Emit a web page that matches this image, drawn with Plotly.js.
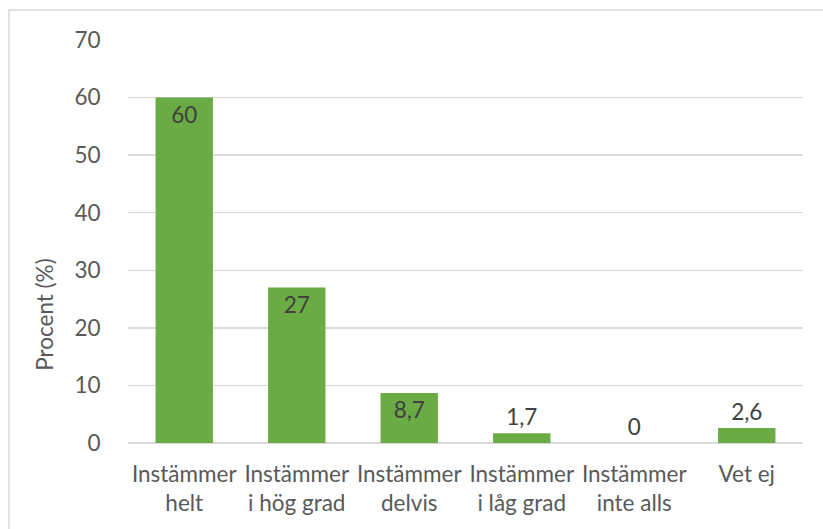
<!DOCTYPE html>
<html>
<head>
<meta charset="utf-8">
<script src="https://cdn.plot.ly/plotly-3.0.1.min.js"></script>
<style>html,body{margin:0;padding:0;background:#fff;}#chart{width:823px;height:529px;}</style>
</head>
<body>
<div id="chart"></div>
<script>
const categories = ["Instämmer<br>helt", "Instämmer<br>i hög grad", "Instämmer<br>delvis", "Instämmer<br>i låg grad", "Instämmer<br>inte alls", "Vet ej"];
const values = [60, 27, 8.7, 1.7, 0, 2.6];
const labelPositions = ["inside", "inside", "inside", "outside", "outside", "outside"];
const yTicks = [0, 10, 20, 30, 40, 50, 60, 70];
const yTitle = "Procent (%)";

const labels = values.map(v => String(v).replace('.', ','));
const font = "Lato, 'Open Sans', sans-serif";
const fs = 22.5;

const trace = {
  type: 'bar',
  x: categories,
  y: values,
  text: labels,
  textposition: labelPositions,
  insidetextanchor: 'end',
  constraintext: 'none',
  cliponaxis: false,
  textfont: {family: font, size: fs, color: '#404040'},
  marker: {color: '#6aab45'},
  width: 0.51,
  hoverinfo: 'skip'
};

const layout = {
  width: 823, height: 529,
  margin: {l: 128, r: 20, t: 40, b: 86},
  paper_bgcolor: '#ffffff', plot_bgcolor: '#ffffff',
  showlegend: false,
  font: {family: font, size: fs, color: '#595959'},
  xaxis: {
    type: 'category',
    showgrid: false, zeroline: false,
    showline: false,
    ticks: 'outside', ticklen: 11, tickcolor: 'rgba(0,0,0,0)',
    tickfont: {family: font, size: fs, color: '#595959'}
  },
  yaxis: {
    range: [0, 70],
    tickvals: yTicks,
    showgrid: true, gridcolor: '#d9d9d9', gridwidth: 1.5,
    zeroline: true, zerolinecolor: '#d9d9d9', zerolinewidth: 2,
    ticks: 'outside', ticklen: 22, tickcolor: 'rgba(0,0,0,0)',
    tickfont: {family: font, size: fs, color: '#595959'}
  },
  annotations: [{
    text: yTitle, textangle: -90,
    xref: 'paper', yref: 'paper',
    x: -0.123, y: 0.318, xanchor: 'center', yanchor: 'middle',
    showarrow: false,
    font: {family: font, size: fs, color: '#595959'}
  }],
  shapes: [{
    type: 'path', xref: 'paper', yref: 'paper',
    path: 'M -0.1763 -0.3 L -0.1763 1.0744 L 1.05 1.0744',
    line: {color: '#d9d9d9', width: 1.5}
  }]
};

Plotly.newPlot('chart', [trace], layout, {displayModeBar: false, staticPlot: true});
</script>
</body>
</html>
